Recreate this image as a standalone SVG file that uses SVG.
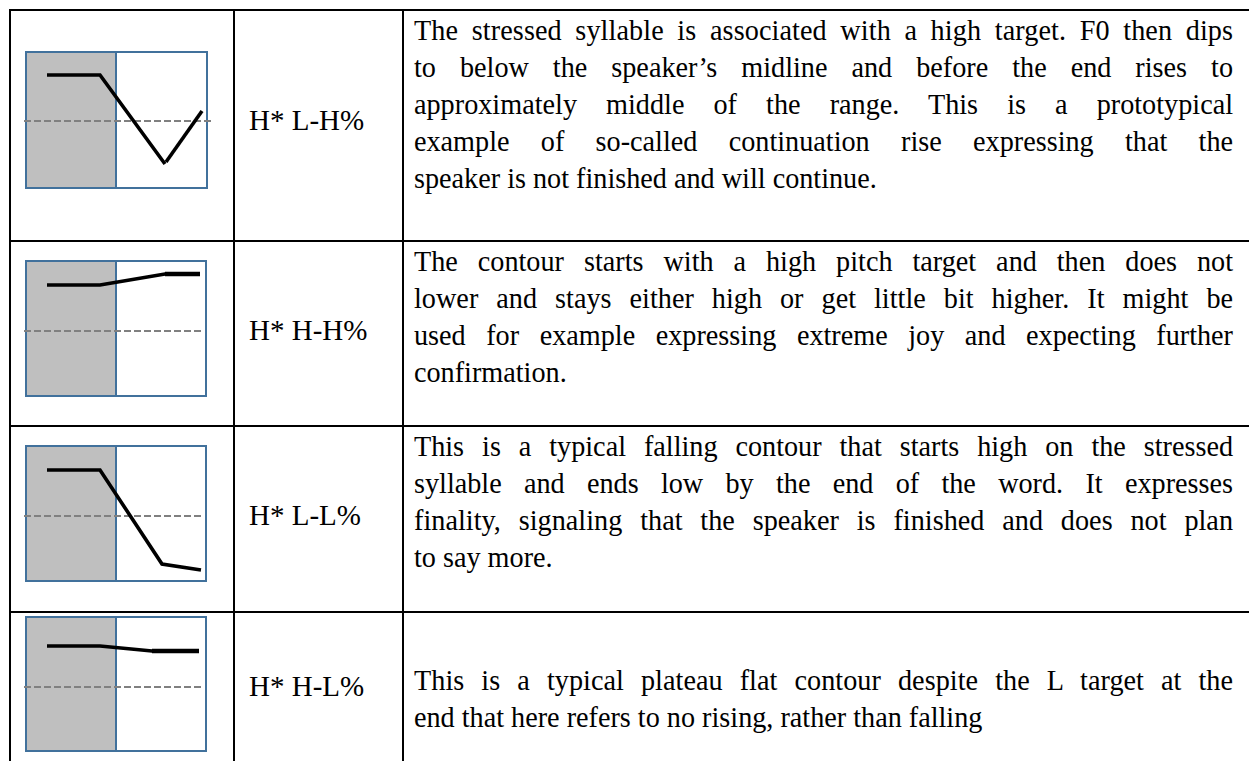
<svg xmlns="http://www.w3.org/2000/svg" width="1249" height="761" viewBox="0 0 1249 761">
<defs>
<style>
.grid{stroke:#000;stroke-width:2;fill:none}
.box{stroke:#41719C;stroke-width:2}
.sh{fill:#BFBFBF}
.wh{fill:#FFFFFF}
.mid{stroke:#808080;stroke-width:2;stroke-dasharray:7 3;fill:none}
.f0{stroke:#000;stroke-width:3.6;fill:none;stroke-linejoin:miter}
.lab{font-family:"Liberation Serif","Times New Roman",serif;font-size:29px;fill:#000}
.desc{font-family:"Liberation Serif","Times New Roman",serif;font-size:30px;fill:#000}
</style>
</defs>
<rect width="1249" height="761" fill="#fff"/>
<g id="connectors" class="grid">
<line x1="9" y1="10" x2="1249" y2="10"/>
<line x1="9" y1="241" x2="1249" y2="241"/>
<line x1="9" y1="426" x2="1249" y2="426"/>
<line x1="9" y1="612" x2="1249" y2="612"/>
<line x1="10" y1="9" x2="10" y2="761"/>
<line x1="234" y1="9" x2="234" y2="761"/>
<line x1="403" y1="9" x2="403" y2="761"/>
</g>
<g id="row1">
<rect class="box sh" x="26" y="52" width="90" height="136"/>
<rect class="box wh" x="116" y="52" width="91" height="136"/>
<line class="mid" x1="24" y1="121" x2="213" y2="121"/>
<polyline class="f0" points="47,75 100,75 165,164"/>
<line class="f0" x1="166" y1="162" x2="202" y2="111"/>
<text class="lab" x="249" y="130">H* L-H%</text>
<g transform="translate(414,0) scale(0.94,1)">
<text class="desc" x="0" y="40" word-spacing="6.8" textLength="871.3" lengthAdjust="spacing">The stressed syllable is associated with a high target. F0 then dips</text>
<text class="desc" x="0" y="77" word-spacing="18" textLength="871.3" lengthAdjust="spacing">to below the speaker’s midline and before the end rises to</text>
<text class="desc" x="0" y="114" word-spacing="23.4" textLength="871.3" lengthAdjust="spacing">approximately middle of the range. This is a prototypical</text>
<text class="desc" x="0" y="151" word-spacing="25.8" textLength="871.3" lengthAdjust="spacing">example of so-called continuation rise expressing that the</text>
<text class="desc" x="0" y="188">speaker is not finished and will continue.</text>
</g>
</g>
<g id="row2">
<rect class="box sh" x="26" y="261" width="90" height="135"/>
<rect class="box wh" x="116" y="261" width="90" height="135"/>
<line class="mid" x1="24" y1="331" x2="203" y2="331"/>
<polyline class="f0" points="47,285 100,285 165,274 200,274"/>
<line x1="165" y1="274" x2="200" y2="274" stroke="#000" stroke-width="4.6"/>
<text class="lab" x="249" y="340">H* H-H%</text>
<g transform="translate(414,0) scale(0.94,1)">
<text class="desc" x="0" y="271" word-spacing="13.7" textLength="871.3" lengthAdjust="spacing">The contour starts with a high pitch target and then does not</text>
<text class="desc" x="0" y="308" word-spacing="11.6" textLength="871.3" lengthAdjust="spacing">lower and stays either high or get little bit higher. It might be</text>
<text class="desc" x="0" y="345" word-spacing="14.3" textLength="871.3" lengthAdjust="spacing">used for example expressing extreme joy and expecting further</text>
<text class="desc" x="0" y="382">confirmation.</text>
</g>
</g>
<g id="row3">
<rect class="box sh" x="26" y="446" width="90" height="135"/>
<rect class="box wh" x="116" y="446" width="90" height="135"/>
<line class="mid" x1="24" y1="516" x2="203" y2="516"/>
<polyline class="f0" points="47,470 100,470 162,564 201,570"/>
<text class="lab" x="249" y="525">H* L-L%</text>
<g transform="translate(414,0) scale(0.94,1)">
<text class="desc" x="0" y="456" word-spacing="11.6" textLength="871.3" lengthAdjust="spacing">This is a typical falling contour that starts high on the stressed</text>
<text class="desc" x="0" y="493" word-spacing="16.2" textLength="871.3" lengthAdjust="spacing">syllable and ends low by the end of the word. It expresses</text>
<text class="desc" x="0" y="530" word-spacing="11.4" textLength="871.3" lengthAdjust="spacing">finality, signaling that the speaker is finished and does not plan</text>
<text class="desc" x="0" y="567">to say more.</text>
</g>
</g>
<g id="row4">
<rect class="box sh" x="26" y="617" width="90" height="134"/>
<rect class="box wh" x="116" y="617" width="90" height="134"/>
<line class="mid" x1="24" y1="687" x2="203" y2="687"/>
<polyline class="f0" points="47,646 100,646 152,651 199,651"/>
<line x1="152" y1="651" x2="199" y2="651" stroke="#000" stroke-width="4.6"/>
<text class="lab" x="249" y="696">H* H-L%</text>
<g transform="translate(414,0) scale(0.94,1)">
<text class="desc" x="0" y="690" word-spacing="10.6" textLength="871.3" lengthAdjust="spacing">This is a typical plateau flat contour despite the L target at the</text>
<text class="desc" x="0" y="727">end that here refers to no rising, rather than falling</text>
</g>
</g>
</svg>
